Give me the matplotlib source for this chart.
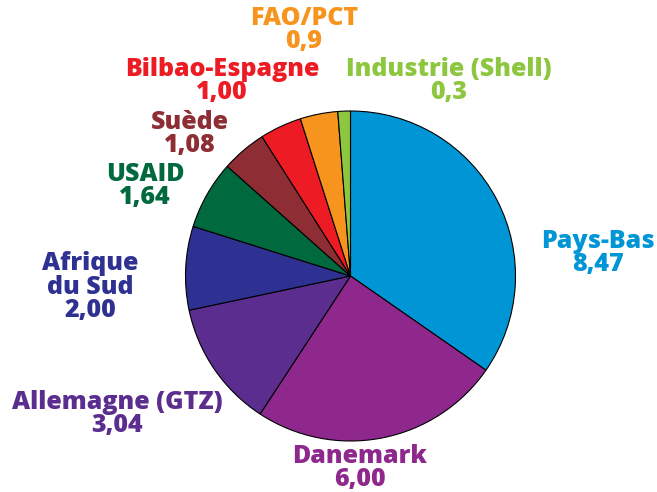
import matplotlib.pyplot as plt

# contributions, clockwise from the top
donors = ['Pays-Bas', 'Danemark', 'Allemagne (GTZ)', 'Afrique\ndu Sud', 'USAID',
          'Suède', 'Bilbao-Espagne', 'FAO/PCT', 'Industrie (Shell)']
values = [8.47, 6.00, 3.04, 2.00, 1.64, 1.08, 1.00, 0.9, 0.3]
value_text = ['8,47', '6,00', '3,04', '2,00', '1,64', '1,08', '1,00', '0,9', '0,3']
colors = ['#0096d6', '#8e288d', '#5b2d8e', '#2e3192', '#00693e',
          '#8f2d34', '#ed1c24', '#f7941d', '#8dc63f']

# label centres in pixel coords (x, y from top)
label_pos = [(598, 253), (360, 468), (117, 414), (90, 287), (145, 186),
             (190, 134), (222, 81), (304, 30), (449, 81)]

W, H = 657, 492
fig = plt.figure(figsize=(W / 100, H / 100), dpi=100)
ax = fig.add_axes([0, 0, 1, 1])
ax.set_xlim(0, W)
ax.set_ylim(0, H)
ax.axis('off')

ax.pie(values, colors=colors, startangle=90, counterclock=False,
       center=(350.5, H - 276), radius=165,
       wedgeprops=dict(edgecolor='black', linewidth=0.8))
ax.set_xlim(0, W)
ax.set_ylim(0, H)
ax.set_aspect('equal')

for name, vt, c, (x, y) in zip(donors, value_text, colors, label_pos):
    ax.text(x, H - y, name + '\n' + vt, color=c, ha='center', va='center',
            fontsize=18, fontweight='heavy', family='Open Sans', linespacing=0.93)

fig.savefig('out.png', dpi=100)
